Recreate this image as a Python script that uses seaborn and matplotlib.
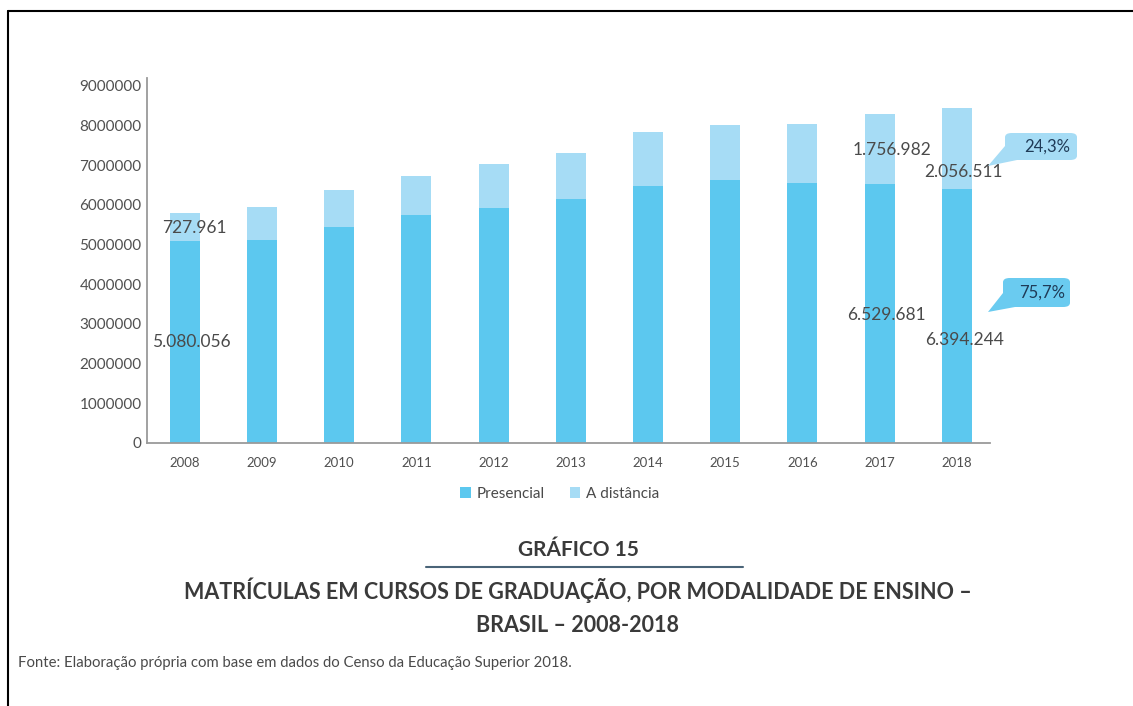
import matplotlib
matplotlib.use("Agg")
import matplotlib.pyplot as plt
from matplotlib.patches import FancyBboxPatch, Polygon, Patch
from matplotlib.lines import Line2D
import seaborn as sns
import numpy as np
import pandas as pd

# ---- data ----
years = ["2008", "2009", "2010", "2011", "2012", "2013", "2014", "2015", "2016", "2017", "2018"]
presencial = [5080056, 5115896, 5449120, 5746762, 5923838, 6152405, 6486171, 6633545, 6554283, 6529681, 6394244]
distancia = [727961, 838125, 930179, 992927, 1113850, 1153572, 1341842, 1393752, 1494418, 1756982, 2056511]
yticks = [0, 1000000, 2000000, 3000000, 4000000, 5000000, 6000000, 7000000, 8000000, 9000000]
series_names = ["Presencial", "A distância"]

title_small = "GRÁFICO 15"
title_l1 = "MATRÍCULAS EM CURSOS DE GRADUAÇÃO, POR MODALIDADE DE ENSINO –"
title_l2 = "BRASIL – 2008-2018"
source = "Fonte: Elaboração própria com base em dados do Censo da Educação Superior 2018."

total = [p + d for p, d in zip(presencial, distancia)]
df = pd.DataFrame({"ano": years, "presencial": presencial, "total": total})

DARK = "#5cc8ef"
LIGHT = "#a6dcf5"
TXT = "#4a4a4a"

sns.set_theme(style="white")
plt.rcParams["font.family"] = ["Lato", "DejaVu Sans"]

W, H = 1133, 706
fig = plt.figure(figsize=(W / 100, H / 100), dpi=100)

def fx(px):
    return px / W

def fy(py):
    return 1 - py / H

ax = fig.add_axes([fx(147), fy(443), (990 - 147) / W, (443 - 78) / H])
sns.barplot(data=df, x="ano", y="total", color=LIGHT, saturation=1, width=0.39,
            linewidth=0, edgecolor="none", ax=ax)
sns.barplot(data=df, x="ano", y="presencial", color=DARK, saturation=1, width=0.39,
            linewidth=0, edgecolor="none", ax=ax)

ax.set_ylim(0, 9.2e6)
ax.set_xlim(-0.49, 10.43)
ax.set_yticks(yticks)
ax.set_yticklabels([str(v) for v in yticks])
ax.set_xlabel("")
ax.set_ylabel("")
for s in ["top", "right"]:
    ax.spines[s].set_visible(False)
for s in ["left", "bottom"]:
    ax.spines[s].set_color("#9a9a9a")
    ax.spines[s].set_linewidth(1.3)
ax.tick_params(axis="y", length=0, pad=4, labelsize=11, labelcolor="#505050")
ax.tick_params(axis="x", length=0, pad=10, labelsize=9.5, labelcolor="#505050")
ax.grid(False)

def fmt(v):
    return f"{v:,}".replace(",", ".")

# value labels (2008, 2017, 2018)
lab_kw = dict(ha="center", va="center", fontsize=12.5, color=TXT)
ax.text(0.13, presencial[0] + distancia[0] * 0.47, fmt(distancia[0]), **lab_kw)
ax.text(0.09, presencial[0] * 0.50, fmt(presencial[0]), **lab_kw)
ax.text(9.16, presencial[9] + distancia[9] * 0.49, fmt(distancia[9]), **lab_kw)
ax.text(9.09, presencial[9] * 0.495, fmt(presencial[9]), **lab_kw)
ax.text(10.08, presencial[10] + distancia[10] * 0.21, fmt(distancia[10]), **lab_kw)
ax.text(10.10, presencial[10] * 0.405, fmt(presencial[10]), **lab_kw)

# callouts with shares
pct_d = distancia[-1] / total[-1] * 100
pct_p = presencial[-1] / total[-1] * 100

def callout(x0, y0, x1, y1, tip, color, text):
    box = FancyBboxPatch((fx(x0), fy(y1)), fx(x1) - fx(x0), fy(y0) - fy(y1),
                         boxstyle="round,pad=0,rounding_size=0.006",
                         transform=fig.transFigure, fc=color, ec="none", zorder=5)
    fig.patches.append(box)
    tri = Polygon([(fx(x0), fy(y1 - 14)), (fx(x0 + 12), fy(y1)), (fx(tip[0]), fy(tip[1]))],
                  closed=True, transform=fig.transFigure, fc=color, ec="none", zorder=5)
    fig.patches.append(tri)
    fig.text(fx((x0 + x1) / 2 + 6), fy((y0 + y1) / 2), text, ha="center", va="center",
             fontsize=12, color="#1f3b57", zorder=6)

callout(1005, 133, 1077, 160, (988, 166), LIGHT, f"{pct_d:.1f}%".replace(".", ","))
callout(1003, 278, 1070, 307, (988, 312), "#6acbf0", f"{pct_p:.1f}%".replace(".", ","))

# legend
handles = [Patch(facecolor=DARK, edgecolor="none"), Patch(facecolor=LIGHT, edgecolor="none")]
fig.legend(handles, series_names, loc="center", bbox_to_anchor=(fx(560), fy(494)), ncol=2,
           frameon=False, fontsize=11, handlelength=0.7, handleheight=0.7, handletextpad=0.4,
           columnspacing=1.6, labelcolor=TXT)

# titles
fig.text(fx(578), fy(550), title_small, ha="center", va="center", fontsize=15,
         fontweight="bold", color="#3a3a3a")
fig.add_artist(Line2D([fx(426), fx(743)], [fy(567), fy(567)], transform=fig.transFigure,
                      color="#4a6478", lw=1.5))
fig.text(fx(578), fy(590), title_l1, ha="center", va="center", fontsize=15.5,
         fontweight="bold", color="#3a3a3a")
fig.text(fx(578), fy(626), title_l2, ha="center", va="center", fontsize=15.5,
         fontweight="bold", color="#3a3a3a")
fig.text(fx(18), fy(663), source, ha="left", va="center", fontsize=10.7, color="#4a4a4a")

# page border (left and top)
fig.add_artist(Line2D([fx(8), fx(8)], [0, fy(11)], transform=fig.transFigure, color="black", lw=1.5))
fig.add_artist(Line2D([fx(8), 1], [fy(11), fy(11)], transform=fig.transFigure, color="black", lw=1.5))

fig.savefig("out.png", dpi=100)
